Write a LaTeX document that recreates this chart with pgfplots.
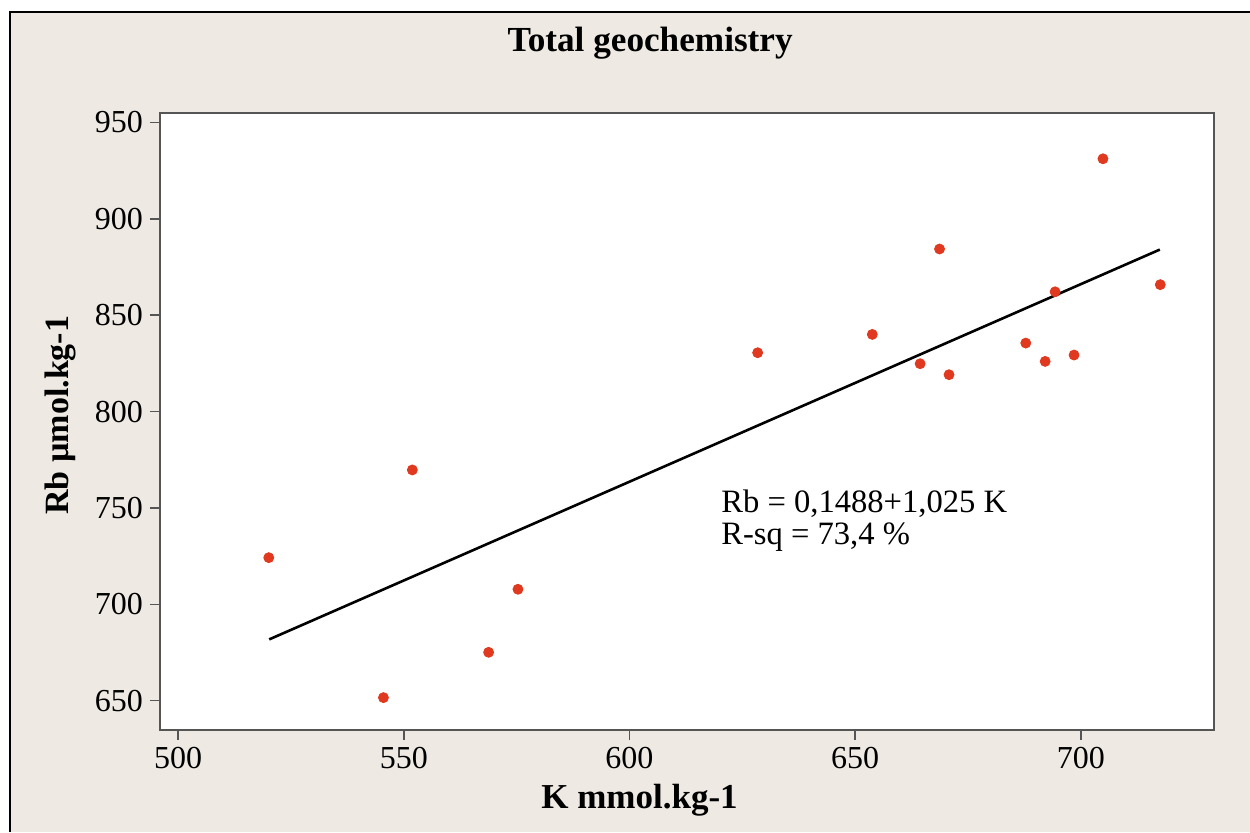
\documentclass[border=0pt]{standalone}
\usepackage{pgfplots}
\pgfplotsset{compat=1.18}
\usepackage{fontspec}
\setmainfont{Liberation Serif}
\definecolor{paper}{HTML}{EEEAE3}
\definecolor{dotred}{HTML}{E0391F}
\definecolor{frame}{HTML}{555555}

\begin{document}
\begin{tikzpicture}
% page and outer frame (1 px = 0.5pt, axis SW corner at origin)
\path[use as bounding box] (-80pt,-51pt) rectangle (545pt,365pt);
\fill[paper] (-75pt,-51pt) rectangle (545pt,359pt);
\draw[black, line width=1.2pt] (-75pt,-51pt) -- (-75pt,359pt) -- (545pt,359pt);
\begin{axis}[
    scale only axis,
    width=527pt, height=308.65pt,
    xmin=496, xmax=729.5,
    ymin=634.8, ymax=955,
    xtick={500,550,600,650,700},
    ytick={650,700,750,800,850,900,950},
    tick align=outside,
    major tick length=5pt,
    tick pos=left,
    axis line style={frame, line width=0.8pt},
    tick style={frame, line width=0.8pt},
    axis background/.style={fill=white},
    /pgf/number format/assume math mode=true,
    /pgf/number format/1000 sep={},
    tick label style={font=\fontsize{16}{19}\selectfont},
    title={Total geochemistry},
    title style={font=\fontsize{17.6}{20}\selectfont\bfseries, at={(axis description cs:0.465,1.093)}, anchor=center},
    xlabel={K mmol.kg-1},
    xlabel style={font=\fontsize{17.5}{20}\selectfont\bfseries, at={(axis description cs:0.455,-0.1134)}, anchor=center},
    ylabel={Rb µmol.kg-1},
    ylabel style={font=\fontsize{17}{20}\selectfont\bfseries, at={(axis description cs:-0.0949,0.51)}, anchor=center},
]
\addplot[only marks, mark=*, mark size=2.5pt, color=dotred] coordinates {
    (520.1,724.2) (551.9,769.7) (575.3,707.8) (568.8,675.1) (545.5,651.6)
    (628.4,830.5) (653.8,840.0) (664.4,824.8) (670.8,819.1) (668.7,884.3)
    (704.9,931.1) (694.3,862.1) (717.6,865.8) (687.8,835.5) (692.1,826.0)
    (698.5,829.3)
};
\addplot[black, line width=1.3pt] coordinates {(520.2,681.8) (717.5,884.0)};
\node[anchor=base west, font=\fontsize{16.3}{19}\selectfont] at (axis cs:618.8,747.4) {Rb = 0,1488+1,025 K};
\node[anchor=base west, font=\fontsize{16.3}{19}\selectfont] at (axis cs:618.8,730.8) {R-sq = 73,4 \%};
\end{axis}
\end{tikzpicture}
\end{document}
